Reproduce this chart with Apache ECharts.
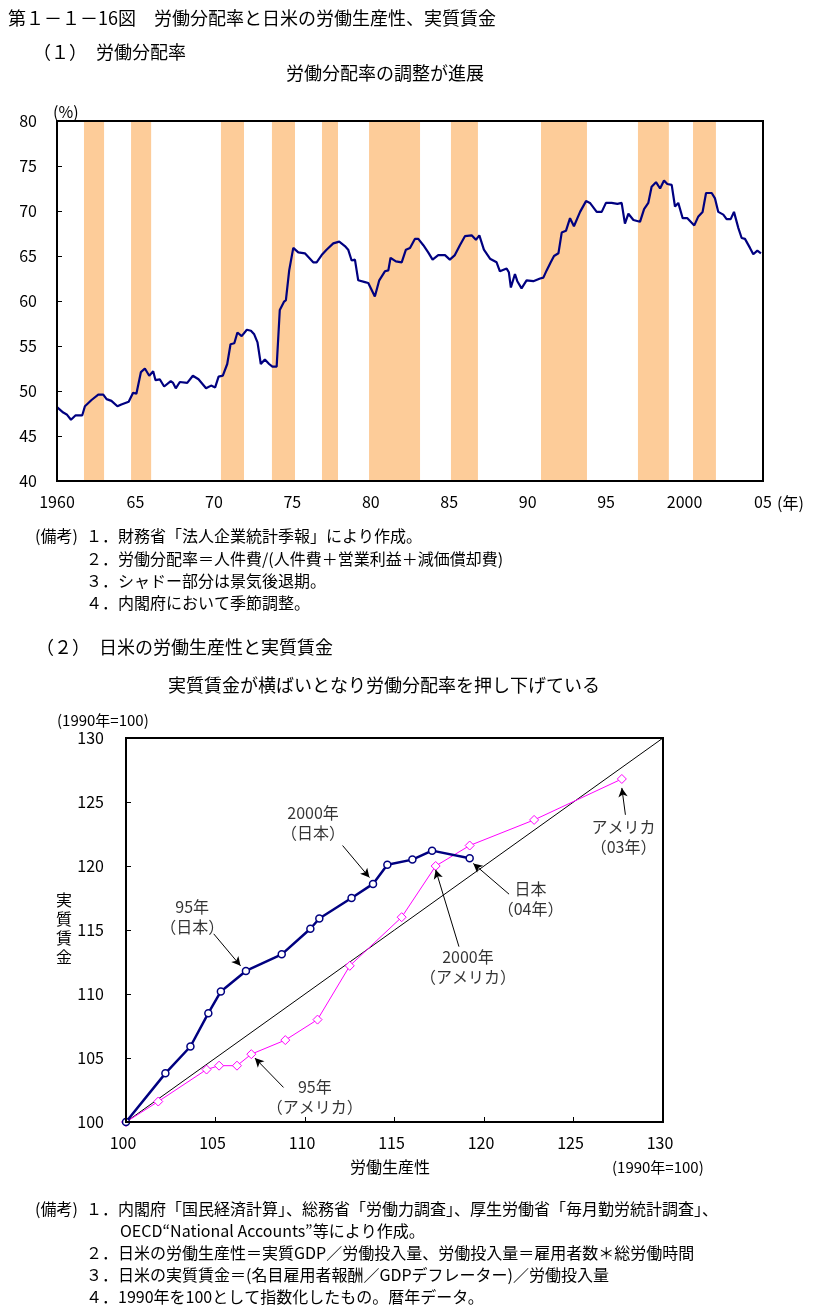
<!DOCTYPE html>
<html><head><meta charset="utf-8">
<script src="https://cdn.jsdelivr.net/npm/echarts@6/dist/echarts.min.js"></script>
<style>html,body{margin:0;padding:0;background:#fff}#c{width:830px;height:1314px}</style>
</head><body><div id="c"></div>
<script>
// ---------- (1) Labour share ----------
const laborYears = [1960.0,1960.4,1960.62,1960.89,1961.19,1961.61,1961.78,1962.2,1962.63,1962.95,1963.16,1963.47,1963.85,1964.1,1964.57,1964.85,1965.06,1965.35,1965.6,1965.88,1966.13,1966.28,1966.55,1966.83,1967.25,1967.4,1967.57,1967.83,1968.3,1968.66,1969.02,1969.5,1969.82,1970.08,1970.3,1970.57,1970.85,1971.06,1971.3,1971.5,1971.77,1972.1,1972.36,1972.57,1972.78,1972.99,1973.25,1973.52,1973.73,1974.0,1974.2,1974.46,1974.59,1974.8,1975.06,1975.38,1975.8,1976.33,1976.55,1976.87,1977.18,1977.61,1977.99,1978.35,1978.56,1978.78,1978.99,1979.2,1979.63,1979.84,1980.26,1980.54,1980.9,1981.12,1981.26,1981.6,1981.97,1982.24,1982.5,1982.81,1983.03,1983.35,1983.66,1983.94,1984.3,1984.73,1985.04,1985.36,1985.68,1986.0,1986.43,1986.7,1986.92,1987.21,1987.6,1988.02,1988.23,1988.66,1988.8,1988.93,1989.19,1989.34,1989.61,1989.93,1990.36,1990.79,1991.0,1991.21,1991.47,1991.68,1991.96,1992.17,1992.44,1992.7,1992.95,1993.34,1993.72,1993.97,1994.4,1994.72,1994.99,1995.35,1995.72,1995.99,1996.2,1996.42,1996.74,1997.16,1997.42,1997.69,1997.9,1998.18,1998.44,1998.69,1998.9,1999.18,1999.39,1999.6,1999.88,2000.18,2000.62,2000.88,2001.15,2001.37,2001.73,2001.94,2002.15,2002.47,2002.68,2002.94,2003.15,2003.43,2003.64,2003.85,2004.17,2004.38,2004.64,2004.87];
const laborShare = [48.2,47.6,47.4,46.8,47.3,47.3,48.3,49.0,49.6,49.6,49.1,48.9,48.3,48.5,48.8,49.8,49.7,52.1,52.5,51.7,52.2,51.2,51.3,50.5,51.1,50.9,50.3,51.0,50.9,51.7,51.3,50.3,50.6,50.4,51.6,51.7,53.0,55.2,55.3,56.5,56.1,56.8,56.7,56.3,55.4,53.0,53.5,53.0,52.7,52.7,59.0,59.9,60.1,63.4,65.9,65.4,65.3,64.3,64.3,65.1,65.7,66.4,66.6,66.1,65.7,64.5,64.6,62.3,62.1,62.0,60.5,62.3,63.3,63.4,64.8,64.4,64.3,65.7,65.9,66.9,66.9,66.2,65.4,64.6,65.1,65.1,64.6,65.1,66.2,67.2,67.3,66.8,67.3,65.7,64.7,64.3,63.3,63.6,63.2,61.5,63.0,62.2,61.4,62.3,62.2,62.5,62.6,63.4,64.3,65.0,65.3,67.6,67.8,69.2,68.3,69.9,71.1,70.9,69.9,69.9,70.9,70.9,70.8,70.9,68.6,69.7,69.0,68.8,70.2,70.9,72.7,73.2,72.5,73.4,73.0,72.9,70.5,70.9,69.2,69.2,68.4,69.4,69.9,72.0,72.0,71.4,69.9,69.6,69.1,69.1,69.9,68.1,67.0,66.9,65.9,65.2,65.6,65.3];
const recessionStart = [1961.72,1964.72,1970.45,1973.70,1976.89,1979.89,1985.11,1990.85,1997.03,2000.54];
const recessionEnd   = [1963.00,1966.00,1971.92,1975.17,1977.91,1983.14,1986.83,1993.78,1999.00,2002.00];
const topXTicks = [1960,1965,1970,1975,1980,1985,1990,1995,2000,2005];
const topXTickLabels = ['1960','65','70','75','80','85','90','95','2000','05'];

// ---------- (2) Productivity vs real wage ----------
const jpYears = [1990,1991,1992,1993,1994,1995,1996,1997,1998,1999,2000,2001,2002,2003,2004];
const jpProductivity = [100,102.2,103.6,104.6,105.3,106.7,108.7,110.3,110.8,112.6,113.8,114.6,116.0,117.1,119.2];
const jpRealWage     = [100,103.8,105.9,108.5,110.2,111.8,113.1,115.1,115.9,117.5,118.6,120.1,120.5,121.2,120.6];
const usYears = [1990,1991,1992,1993,1994,1995,1996,1997,1998,1999,2000,2001,2002,2003];
const usProductivity = [100,101.8,104.5,105.2,106.2,107.0,108.9,110.7,112.5,115.4,117.3,119.2,122.8,127.7];
const usRealWage     = [100,101.6,104.1,104.4,104.4,105.3,106.4,108.0,112.2,116.0,120.0,121.6,123.6,126.8];
const diagonal = [[100,100],[130,130]];

const annotationTexts = ['2000年\n（日本）','95年\n（日本）','95年\n（アメリカ）','2000年\n（アメリカ）','日本\n（04年）','アメリカ\n（03年）'];
const annotationAt = [[110.45,123.4],[103.7,116.05],[110.55,101.95],[119.1,112.1],[122.6,117.4],[127.8,122.3]];
const arrowFrom = [[112.1,121.6],[104.9,114.7],[108.8,102.7],[118.6,113.7],[121.4,117.8],[127.9,124.0]];
const arrowTo   = [[113.6,119.1],[106.4,112.2],[107.2,105.0],[117.3,119.7],[119.4,120.2],[127.7,126.1]];

const FONT = '"Noto Sans CJK JP", sans-serif';
function txt(text, x, y, size, align) {
  return {type:'text', x:x, y:y, z:200, style:{text:text, font: size+'px '+FONT, fill:'#000',
    textAlign: align||'left', align: align||'left', textVerticalAlign:'middle', verticalAlign:'middle'}};
}

const chart = echarts.init(document.getElementById('c'), null, {renderer:'canvas'});
const graphics = [
  txt('第１－１－16図　労働分配率と日米の労働生産性、実質賃金', 8, 18, 18),
  txt('（１）　労働分配率', 33, 52, 18),
  txt('労働分配率の調整が進展', 385, 73, 18, 'center'),
  txt('(%)', 53, 112, 16),
  txt('(年)', 777, 503, 16),
  txt('(備考)', 35, 536, 16),
  txt('１．財務省「法人企業統計季報」により作成。', 86, 536, 16),
  txt('２．労働分配率＝人件費/(人件費＋営業利益＋減価償却費)', 86, 559, 16),
  txt('３．シャドー部分は景気後退期。', 86, 581, 16),
  txt('４．内閣府において季節調整。', 86, 603, 16),
  txt('（２）　日米の労働生産性と実質賃金', 36, 647, 18),
  txt('実質賃金が横ばいとなり労働分配率を押し下げている', 384, 685, 18, 'center'),
  txt('(1990年=100)', 57, 720, 15),
  txt('(1990年=100)', 612, 1167, 15),
  txt('労働生産性', 390, 1167, 16, 'center'),
  {type:'text', x:64, y:928, z:200, style:{text:'実\n質\n賃\n金', font:'16px '+FONT, fill:'#000', lineHeight:19,
    textAlign:'center', align:'center', textVerticalAlign:'middle', verticalAlign:'middle'}},
  txt('(備考)', 35, 1209, 16),
  txt('１．内閣府「国民経済計算」、総務省「労働力調査」、厚生労働省「毎月勤労統計調査」、', 86, 1209, 16),
  txt('OECD“National Accounts”等により作成。', 120, 1231, 16),
  txt('２．日米の労働生産性＝実質GDP／労働投入量、労働投入量＝雇用者数＊総労働時間', 86, 1253, 16),
  txt('３．日米の実質賃金＝(名目雇用者報酬／GDPデフレーター)／労働投入量', 86, 1275, 16),
  txt('４．1990年を100として指数化したもの。暦年データ。', 86, 1297, 16),
  {type:'rect', z:150, shape:{x:57, y:121, width:706, height:360}, style:{fill:'none', stroke:'#000', lineWidth:2}},
  {type:'rect', z:150, shape:{x:126, y:738, width:537, height:384}, style:{fill:'none', stroke:'#000', lineWidth:2}}
];

const axisLabelStyle = {color:'#000', fontSize:16, fontFamily:FONT};
const option = {
  animation:false,
  backgroundColor:'#fff',
  grid:[
    {left:57, top:121, width:706, height:360, show:false},
    {left:126, top:738, width:537, height:384, show:false}
  ],
  xAxis:[
    {gridIndex:0, type:'value', min:1960, max:2005, interval:5,
     axisLine:{lineStyle:{color:'#000', width:2}}, axisTick:{show:false}, splitLine:{show:false},
     axisLabel:Object.assign({margin:13, formatter:v => topXTickLabels[topXTicks.indexOf(v)]}, axisLabelStyle)},
    {gridIndex:1, type:'value', min:100, max:130, interval:5,
     axisLine:{lineStyle:{color:'#000', width:2}}, axisTick:{inside:true, length:5, lineStyle:{color:'#000'}}, splitLine:{show:false},
     axisLabel:Object.assign({margin:13, padding:[0,6,0,0]}, axisLabelStyle)}
  ],
  yAxis:[
    {gridIndex:0, type:'value', min:40, max:80, interval:5,
     axisLine:{show:true, lineStyle:{color:'#000', width:2}}, axisTick:{show:true, inside:true, length:5, lineStyle:{color:'#000'}}, splitLine:{show:false},
     axisLabel:Object.assign({margin:20}, axisLabelStyle)},
    {gridIndex:1, type:'value', min:100, max:130, interval:5,
     axisLine:{show:true, lineStyle:{color:'#000', width:2}}, axisTick:{show:true, inside:true, length:5, lineStyle:{color:'#000'}}, splitLine:{show:false},
     axisLabel:Object.assign({margin:22}, axisLabelStyle)}
  ],
  series:[
    {type:'line', xAxisIndex:0, yAxisIndex:0, data:[], silent:true,
     markArea:{silent:true, itemStyle:{color:'#FDCC99'},
       data: recessionStart.map((s,i)=>[{xAxis:s},{xAxis:recessionEnd[i]}])}},
    {type:'line', xAxisIndex:0, yAxisIndex:0, z:10, showSymbol:false, silent:true,
     lineStyle:{color:'#000080', width:2.2},
     data: laborYears.map((y,i)=>[y, laborShare[i]])},
    {type:'line', xAxisIndex:1, yAxisIndex:1, showSymbol:false, silent:true,
     lineStyle:{color:'#000', width:1}, data: diagonal},
    {type:'line', xAxisIndex:1, yAxisIndex:1, silent:true, symbol:'diamond', symbolSize:9,
     lineStyle:{color:'#FF00FF', width:1},
     itemStyle:{color:'#fff', borderColor:'#FF00FF', borderWidth:1},
     data: usYears.map((y,i)=>[usProductivity[i], usRealWage[i]])},
    {type:'line', xAxisIndex:1, yAxisIndex:1, silent:true, symbol:'circle', symbolSize:7,
     lineStyle:{color:'#000080', width:2.5},
     itemStyle:{color:'#fff', borderColor:'#000080', borderWidth:1.5},
     data: jpYears.map((y,i)=>[jpProductivity[i], jpRealWage[i]])},
    {type:'scatter', xAxisIndex:1, yAxisIndex:1, silent:true, symbolSize:0, z:20,
     label:{show:true, position:'inside', formatter:'{b}', color:'#000', fontSize:16, lineHeight:20, fontFamily:FONT, align:'center'},
     data: annotationTexts.map((t,i)=>({name:t, value:annotationAt[i]})),
     markLine:{silent:true, symbol:['none','arrow'], symbolSize:[7,9], animation:false,
       lineStyle:{color:'#000', width:1, type:'solid'}, label:{show:false},
       data: arrowFrom.map((f,i)=>[{coord:f},{coord:arrowTo[i]}])}}
  ],
  graphic: graphics
};
chart.setOption(option);
</script></body></html>
